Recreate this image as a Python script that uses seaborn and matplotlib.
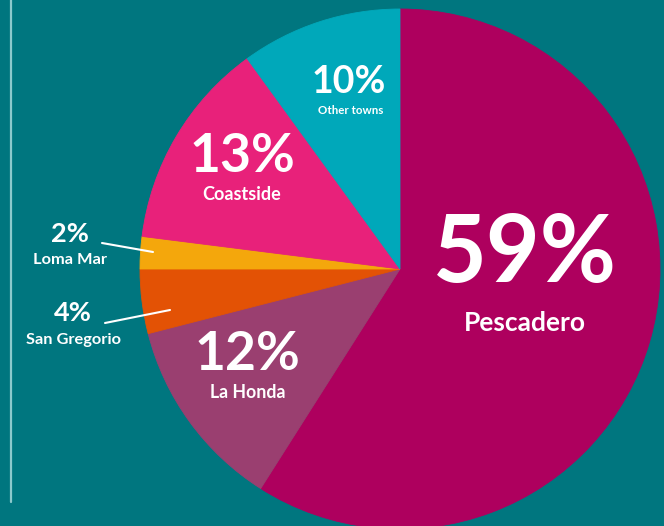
import matplotlib
matplotlib.use("Agg")
import matplotlib.pyplot as plt
import seaborn as sns

towns = ["Pescadero", "La Honda", "San Gregorio", "Loma Mar", "Coastside", "Other towns"]
shares = [59, 12, 4, 2, 13, 10]
colors = ["#AE005E", "#9A3F70", "#E35205", "#F4A70C", "#E8217A", "#00A8BA"]

bg = "#00767F"

sns.set_theme(style="white")
plt.rcParams["font.family"] = ["Lato", "DejaVu Sans"]

W, H = 664, 526
fig = plt.figure(figsize=(W / 100, H / 100), dpi=100, facecolor=bg)
ax = fig.add_axes([0, 0, 1, 1])
ax.set_facecolor(bg)

cx, cy, r = 400, H - 269, 260
ax.pie(shares, colors=colors, startangle=90, counterclock=False,
       center=(cx, cy), radius=r, wedgeprops=dict(linewidth=0.6))
for w, c in zip(ax.patches, colors):
    w.set_edgecolor(c)

ax.set_xlim(0, W)
ax.set_ylim(0, H)
ax.set_aspect("equal")
ax.axis("off")

# thin rule on the left
ax.plot([11, 11], [H, H - 502], color="#8CC9CC", lw=1.6)

def txt(x, y, s, size, weight="bold"):
    ax.text(x, H - y, s, color="white", fontsize=size, fontweight=weight,
            ha="center", va="center")

# big labels inside slices
txt(525, 255, "59%", 67)
txt(525, 323, "Pescadero", 19)
txt(247, 355, "12%", 38.5)
txt(248, 393, "La Honda", 12.8)
txt(242, 157, "13%", 38.5)
txt(242, 194, "Coastside", 13)
txt(349, 82, "10%", 27)
txt(351, 110, "Other towns", 8.3)

# outside labels with leader lines
txt(70, 234, "2%", 19.5)
txt(70, 260, "Loma Mar", 11.8)
ax.plot([102, 153], [H - 243, H - 252], color="white", lw=1.5)
txt(73, 313, "4%", 19.5)
txt(73, 340, "San Gregorio", 11.8)
ax.plot([105, 170], [H - 323, H - 310], color="white", lw=1.5)

fig.savefig("out.png", dpi=100, facecolor=bg)
